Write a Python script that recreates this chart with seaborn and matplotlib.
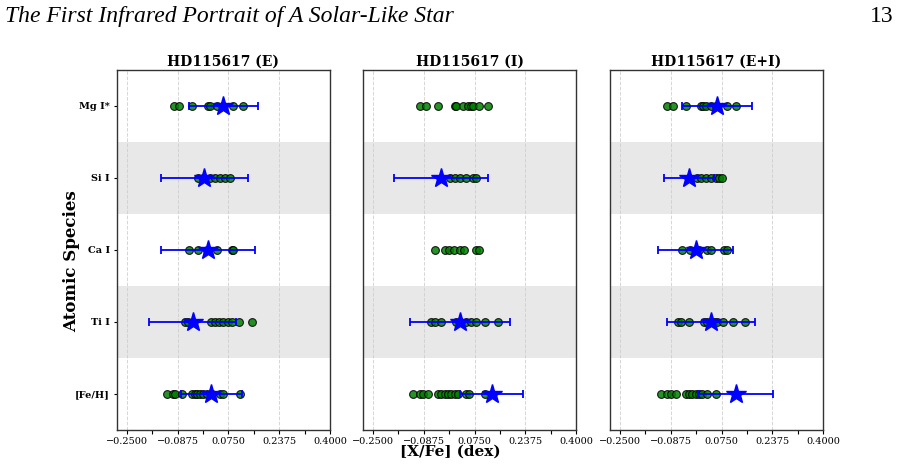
import numpy as np
import pandas as pd
import matplotlib
matplotlib.use("Agg")
import matplotlib.pyplot as plt
import seaborn as sns

species = ["Mg I*", "Si I", "Ca I", "Ti I", "[Fe/H]"]
panels = ["HD115617 (E)", "HD115617 (I)", "HD115617 (E+I)"]

# individual line abundances, per panel and species
lines_E = {
    "Mg I*": [-0.101, -0.082, -0.042, 0.008, 0.017, 0.038, 0.059, 0.089, 0.120],
    "Si I": [-0.021, -0.005, 0.017, 0.033, 0.049, 0.065, 0.081],
    "Ca I": [-0.051, -0.021, 0.006, 0.038, 0.086, 0.091],
    "Ti I": [-0.063, -0.056, 0.020, 0.033, 0.046, 0.059, 0.075, 0.086, 0.110, 0.150],
    "[Fe/H]": [-0.122, -0.103, -0.095, -0.074, -0.042, -0.031, -0.026, -0.015,
               -0.005, 0.006, 0.022, 0.049, 0.059, 0.113],
}
lines_I = {
    "Mg I*": [-0.101, -0.081, -0.041, 0.011, 0.017, 0.038, 0.054, 0.065, 0.070, 0.089, 0.119],
    "Si I": [-0.005, 0.011, 0.027, 0.049, 0.070, 0.081],
    "Ca I": [-0.050, -0.021, -0.007, 0.008, 0.027, 0.040, 0.079, 0.089],
    "Ti I": [-0.063, -0.053, -0.031, 0.017, 0.027, 0.049, 0.065, 0.079, 0.110, 0.150],
    "[Fe/H]": [-0.122, -0.101, -0.090, -0.074, -0.042, -0.031, -0.021, -0.010,
               0.001, 0.011, 0.022, 0.047, 0.057, 0.107],
}
lines_EI = {
    "Mg I*": [-0.101, -0.081, -0.040, 0.008, 0.017, 0.024, 0.040, 0.056, 0.091, 0.120],
    "Si I": [-0.002, 0.008, 0.024, 0.040, 0.056, 0.067, 0.078],
    "Ca I": [-0.050, -0.026, 0.003, 0.027, 0.040, 0.083, 0.091],
    "Ti I": [-0.064, -0.055, -0.029, 0.019, 0.030, 0.051, 0.062, 0.081, 0.111, 0.150],
    "[Fe/H]": [-0.120, -0.099, -0.088, -0.072, -0.040, -0.029, -0.018, -0.008,
               0.003, 0.014, 0.027, 0.056],
}

# mean abundance (star) and its error; None = not shown
mean_E = [0.059, -0.002, 0.009, -0.040, 0.020]
err_E = [0.112, 0.140, 0.150, 0.140, 0.098]
mean_I = [None, -0.032, None, 0.029, 0.130]
err_I = [None, 0.150, None, 0.160, 0.100]
mean_EI = [0.061, -0.030, -0.008, 0.041, 0.121]
err_EI = [0.112, 0.080, 0.120, 0.140, 0.120]

tick_vals = [-0.25, -0.0875, 0.075, 0.2375, 0.40]

rows = []
for pname, d in zip(panels, [lines_E, lines_I, lines_EI]):
    for sp in species:
        for v in d[sp]:
            rows.append({"panel": pname, "species": sp, "value": v})
df = pd.DataFrame(rows)

sns.set_style("white")
plt.rcParams["font.family"] = ["DejaVu Serif"]
plt.rcParams["text.color"] = "black"
plt.rcParams["axes.labelcolor"] = "black"
plt.rcParams["xtick.color"] = "black"
plt.rcParams["ytick.color"] = "black"

fig = plt.figure(figsize=(8.99, 4.69), dpi=100)
lefts = [0.1301, 0.4038, 0.6785]
axes = [fig.add_axes([l, 0.0832, 0.237, 0.7676]) for l in lefts]

for i, (ax, pname, means, errs) in enumerate(zip(axes, panels, [mean_E, mean_I, mean_EI],
                                                   [err_E, err_I, err_EI])):
    for k in (1, 3):
        ax.axhspan(k - 0.5, k + 0.5, color="#e8e8e8", zorder=0, lw=0)
    sub = df[df["panel"] == pname]
    sns.stripplot(data=sub, x="value", y="species", order=species, jitter=False,
                  color="green", edgecolor="black", linewidth=0.8, size=5.6,
                  alpha=0.85, ax=ax, zorder=3)
    for j, (m, e) in enumerate(zip(means, errs)):
        if m is None:
            continue
        ax.errorbar(m, j, xerr=e, fmt="none", ecolor="blue", elinewidth=1.3,
                    capsize=3, capthick=1.3, zorder=4)
        ax.plot(m, j, marker="*", color="blue", markersize=15, ls="none", zorder=5)
    ax.set_xlim(-0.282, 0.40)
    ax.set_ylim(4.5, -0.5)
    ax.set_xticks(tick_vals)
    ax.set_xticklabels([f"{t:.4f}".replace("-", "\u2212") for t in tick_vals], fontsize=7)
    ax.set_xticks([-0.16875, -0.00625, 0.15625, 0.31875], minor=True)
    ax.tick_params(axis="x", which="both", bottom=True, direction="out", length=3,
                   width=0.8, pad=2)
    for t in tick_vals:
        ax.axvline(t, color="#cccccc", ls="--", lw=0.7, alpha=0.8, zorder=1)
    ax.set_xlabel("")
    ax.set_ylabel("")
    ax.set_title(pname, fontsize=10, fontweight="bold", pad=3)
    for s in ax.spines.values():
        s.set_color("#333333")
        s.set_linewidth(1.0)
    if i == 0:
        ax.set_yticks(range(len(species)))
        ax.set_yticklabels(species, fontsize=7, fontweight="bold")
        ax.tick_params(axis="y", left=True, length=2, pad=3)
    else:
        ax.set_yticks([])

fig.text(0.080, 0.443, "Atomic Species", rotation=90, fontsize=12, fontweight="bold",
         ha="center", va="center")
fig.text(0.501, 0.036, "[X/Fe] (dex)", fontsize=11, fontweight="bold",
         ha="center", va="center")

fig.text(0.006, 0.965, "The First Infrared Portrait of A Solar-Like Star",
         fontsize=17, style="italic", family="Liberation Serif", va="center", ha="left")
fig.text(0.994, 0.965, "13", fontsize=17, family="Liberation Serif",
         va="center", ha="right")

fig.savefig("out.png", dpi=100)
